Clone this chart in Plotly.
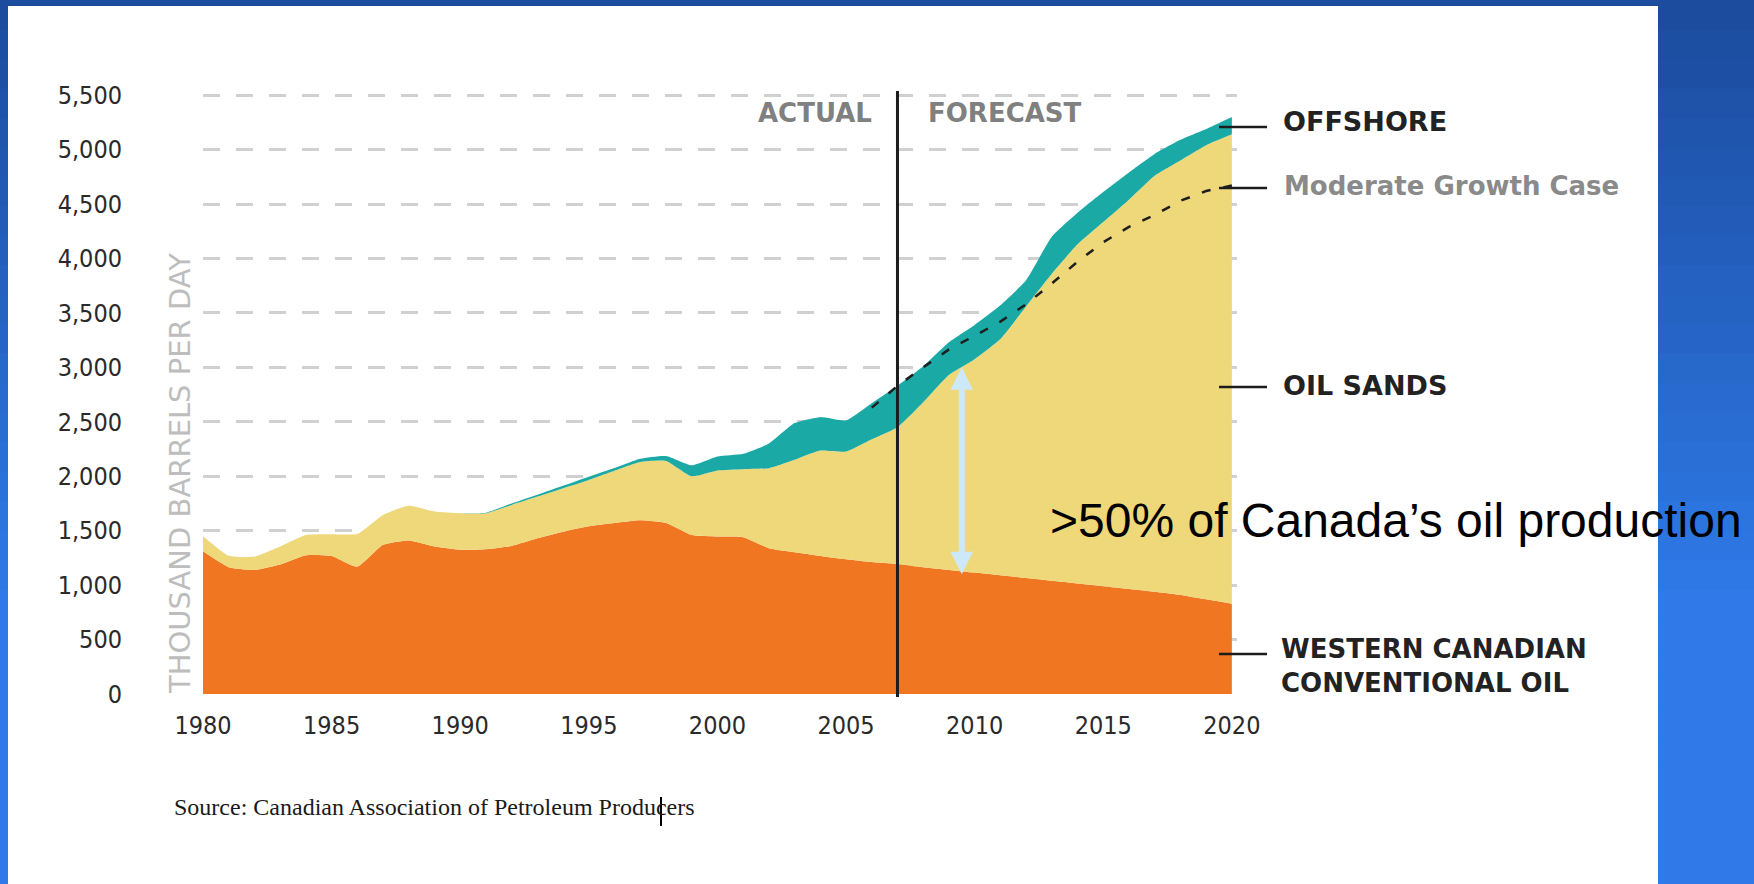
import plotly.graph_objects as go

# Canadian crude oil production, thousand barrels per day
years = list(range(1980, 2021))
conventional = [1310, 1165, 1140, 1190, 1275, 1268, 1170, 1370, 1410, 1355,
                1325, 1330, 1360, 1430, 1490, 1540, 1570, 1595, 1570, 1460,
                1446, 1440, 1339, 1302, 1268, 1238, 1212, 1195, 1165, 1140,
                1115, 1090, 1065, 1040, 1015, 990, 965, 940, 910, 870, 830]
oil_sands = [140, 105, 122, 165, 185, 200, 300, 275, 318, 321,
             336, 331, 377, 383, 400, 426, 480, 535, 570, 540,
             607, 625, 735, 849, 968, 989, 1128, 1256, 1515, 1790,
             1960, 2170, 2495, 2820, 3115, 3345, 3575, 3820, 3990, 4170, 4310]
offshore = [0, 0, 0, 0, 0, 0, 0, 0, 0, 0,
            0, 4, 13, 17, 22, 29, 25, 30, 45, 100,
            128, 141, 226, 337, 307, 285, 330, 380, 330, 300,
            315, 310, 240, 340, 290, 275, 250, 200, 190, 150, 160]

growth_years = list(range(2006, 2021))
moderate_growth = [2630, 2830, 3000, 3165, 3290, 3420, 3580, 3770,
                   3970, 4150, 4290, 4400, 4530, 4620, 4670]

x_ticks = list(range(1980, 2021, 5))
y_ticks = list(range(0, 5501, 500))

forecast_start = 2007
arrow_year = 2009.5
arrow_top = 3000
arrow_bottom = 1085

# figure geometry (pixels)
W, H = 1754, 884
L, R, T, B = 203, 517, 93, 190
PW, PH = W - L - R, H - T - B


def px_x(px):
    return (px - L) / PW


def px_y(py):
    return (H - B - py) / PH


ORANGE = '#f17622'
YELLOW = '#eed87a'
TEAL = '#1aa9a4'

fig = go.Figure()

area_line = dict(width=0, shape='spline', smoothing=0.5)
fig.add_trace(go.Scatter(x=years, y=conventional, stackgroup='prod', mode='lines',
                         line=dict(area_line, color=ORANGE), fillcolor=ORANGE,
                         name='Western Canadian Conventional Oil'))
fig.add_trace(go.Scatter(x=years, y=oil_sands, stackgroup='prod', mode='lines',
                         line=dict(area_line, color=YELLOW), fillcolor=YELLOW,
                         name='Oil Sands'))
fig.add_trace(go.Scatter(x=years, y=offshore, stackgroup='prod', mode='lines',
                         line=dict(area_line, color=TEAL), fillcolor=TEAL,
                         name='Offshore'))
fig.add_trace(go.Scatter(x=growth_years, y=moderate_growth, mode='lines',
                         line=dict(color='#1e1e1e', width=2.5, dash='9px,13px'),
                         name='Moderate Growth Case'))

shapes = []
# blue slide background, darker at the top
n_bands = 30
c_top, c_bot = (28, 76, 158), (47, 122, 232)
for i in range(n_bands):
    f = min(1.0, i / (n_bands * 0.65))
    col = 'rgb(%d,%d,%d)' % tuple(int(a + (b - a) * f) for a, b in zip(c_top, c_bot))
    shapes.append(dict(type='rect', xref='paper', yref='paper', layer='below',
                       x0=px_x(0), x1=px_x(W),
                       y0=px_y(H * (i + 1) / n_bands + 1), y1=px_y(H * i / n_bands),
                       fillcolor=col, line_width=0))
# white panel
shapes.append(dict(type='rect', xref='paper', yref='paper', layer='below',
                   x0=px_x(8), x1=px_x(1658), y0=px_y(H + 2), y1=px_y(6),
                   fillcolor='white', line_width=0))
# actual / forecast divider
shapes.append(dict(type='line', xref='x', yref='paper', x0=forecast_start, x1=forecast_start,
                   y0=px_y(697), y1=px_y(91), line=dict(color='#1c1c1c', width=3)))
# leader lines for the labels on the right
for ly in [127, 188, 387, 654]:
    shapes.append(dict(type='line', xref='paper', yref='paper',
                       x0=px_x(1219), x1=px_x(1267), y0=px_y(ly), y1=px_y(ly),
                       line=dict(color='#1c1c1c', width=2.5)))
# text cursor left in the source line
shapes.append(dict(type='line', xref='paper', yref='paper',
                   x0=px_x(661), x1=px_x(661), y0=px_y(826), y1=px_y(797),
                   line=dict(color='black', width=2)))

label_font = dict(family='DejaVu Sans', size=27, color='#222222', weight='bold')
grey_font = dict(family='DejaVu Sans', size=26, color='#808080', weight='bold')
annotations = [
    dict(text='ACTUAL', x=px_x(874), y=px_y(113), xanchor='right', yanchor='middle',
         font=grey_font),
    dict(text='FORECAST', x=px_x(926), y=px_y(113), xanchor='left', yanchor='middle',
         font=grey_font),
    dict(text='OFFSHORE', x=px_x(1281), y=px_y(122), xanchor='left', yanchor='middle',
         font=label_font),
    dict(text='Moderate Growth Case', x=px_x(1282), y=px_y(186), xanchor='left', yanchor='middle',
         font=dict(family='DejaVu Sans', size=26, color='#8a8a8a', weight='bold')),
    dict(text='OIL SANDS', x=px_x(1281), y=px_y(385), xanchor='left', yanchor='middle',
         font=label_font),
    dict(text='WESTERN CANADIAN<br>CONVENTIONAL OIL', x=px_x(1279), y=px_y(666),
         xanchor='left', yanchor='middle', align='left',
         font=dict(label_font, size=26)),
    dict(text='THOUSAND BARRELS PER DAY', x=px_x(180), y=px_y(474), textangle=-90,
         xanchor='center', yanchor='middle',
         font=dict(family='DejaVu Sans', size=29, color='#bdbdbd')),
    dict(text='>50% of Canada\u2019s oil production', x=px_x(1048), y=px_y(520),
         xanchor='left', yanchor='middle',
         font=dict(family='Liberation Sans, Arial', size=48, color='black')),
    dict(text='Source: Canadian Association of Petroleum Producers', x=px_x(172), y=px_y(807),
         xanchor='left', yanchor='middle',
         font=dict(family='Liberation Serif', size=24, color='#1a1a1a')),
]
for a in annotations:
    a.update(xref='paper', yref='paper', showarrow=False)

# double-headed arrow spanning the oil sands band
annotations.append(dict(x=arrow_year, y=arrow_top, ax=arrow_year, ay=arrow_bottom,
                        xref='x', yref='y', axref='x', ayref='y', text='',
                        showarrow=True, arrowside='end+start',
                        arrowhead=2, startarrowhead=2, arrowsize=0.75, startarrowsize=0.75,
                        arrowwidth=6, arrowcolor='#cde9f9', standoff=0, startstandoff=0))

tick_font = dict(family='Liberation Sans Narrow, DejaVu Sans Condensed, sans-serif',
                 size=25, color='#2a2a2a')

fig.update_layout(
    width=W, height=H,
    margin=dict(l=L, r=R, t=T, b=B),
    paper_bgcolor='#2a66cc',
    plot_bgcolor='rgba(0,0,0,0)',
    showlegend=False,
    shapes=shapes,
    annotations=annotations,
    xaxis=dict(range=[1980, 2020.2], tickvals=x_ticks, showgrid=False, zeroline=False,
               showline=False, ticks='', tickfont=tick_font, ticklabelstandoff=14),
    yaxis=dict(range=[0, 5520], tickvals=y_ticks, tickformat=',', showgrid=True,
               gridcolor='#d0d0d0', gridwidth=2.5, griddash='17px,16px',
               zeroline=False, showline=False, ticks='', tickfont=tick_font,
               ticklabelstandoff=80),
)

# drop the default page margin so the figure sits at the window's corner
fig.write_html("out.html", config={'displayModeBar': False},
               post_script="document.body.style.margin='0px';")
